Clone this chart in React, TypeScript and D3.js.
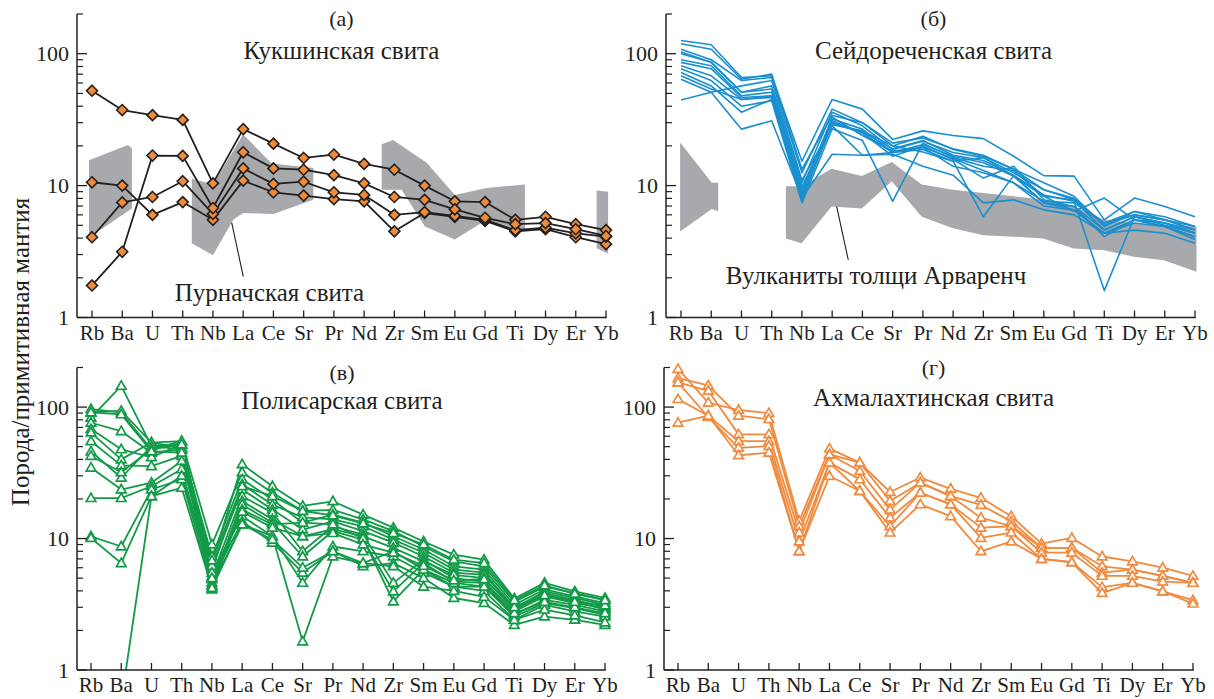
import React from "react";
import * as d3 from "d3";

const ELEMENTS = ["Rb","Ba","U","Th","Nb","La","Ce","Sr","Pr","Nd","Zr","Sm","Eu","Gd","Ti","Dy","Er","Yb"];
const Y_TICK_LABELS = [1, 10, 100];

// (а) Кукшинская свита
const KUK: (number | null)[][] = [
  [52.4, 37.4, 34.2, 31.5, 10.4, 26.8, 20.8, 16.2, 17.2, 14.6, 13.2, 10.0, 7.6, 7.5, 5.5, 5.8, 5.1, 4.6],
  [10.6, 10.0, 6.0, 7.5, 5.5, 10.9, 8.9, 8.4, 7.9, 7.6, 4.5, 6.2, 5.8, 5.4, 4.5, 4.67, 4.06, 3.6],
  [4.06, 7.46, 8.2, 10.8, 6.1, 13.5, 10.3, 10.7, 8.9, 8.5, 6.0, 6.3, 5.9, 5.5, 4.6, 4.8, 4.35, 4.1],
  [1.75, 3.15, 16.9, 16.8, 6.76, 17.9, 13.5, 13.2, 12.0, 10.4, 8.2, 7.8, 6.6, 5.7, 5.1, 5.2, 4.67, 4.15],
];

// (б) Сейдореченская свита
const SEID: (number | null)[][] = [
  [126, 117, 66, 68, 15.3, 45, 38, 22.4, 26, 24, 22.7, 16.7, 11.9, 11.8, 5.5, 8.05, 6.95, 5.8],
  [119, 108, 64, 70, 13.3, 34, 30, 20, 23.7, 18.8, 16.7, 13.3, 10.5, 8.3, 4.9, 6.37, 5.8, 4.9],
  [103, 86, 51, 57, 10.5, 36, 28.4, 18.8, 21.7, 17.8, 16.3, 12.5, 9.3, 7.8, 5.2, 6.0, 5.5, 4.6],
  [90, 81, 48, 51, 9.3, 32, 26.8, 17.8, 20.5, 16.7, 14.9, 11.8, 8.3, 6.4, 8.05, 5.5, 5.2, 4.35],
  [86, 77, 46.6, 48, 8.3, 30, 25, 16.7, 20, 15.8, 11.4, 14.0, 7.8, 6.95, 4.6, 5.8, 5.2, 4.6],
  [81, 68, 45, 46.6, 7.8, 31, 25, 17.8, 18.8, 15.3, 16.3, 11.8, 7.4, 6.55, 4.35, 5.5, 4.9, 4.1],
  [77, 62.6, 40, 44, 7.4, 27, 22, 7.6, 21, 16.3, 14, 13, 8.3, 7.8, 4.6, 5.8, 5.2, 4.35],
  [72, 57, 36, 45, 8.05, 29, 26, 20, 18, 15.3, 5.8, 11.9, 7.4, 6.95, 4.1, 5.5, 4.9, 4.1],
  [68, 54, 45, 48, 8.7, 33, 24, 18.3, 19.5, 16, 13, 10.5, 7.6, 7.4, 5.2, 6.37, 5.5, 4.9],
  [44.5, 51, 57, 62.6, 11, 28.4, 17, 17.3, 14, 12, 7.4, 7.8, 6.55, 6.0, 4.35, 4.6, 4.35, 3.65],
  [64, 51, 26.8, 31, 8.05, 17.3, 17, 17.8, 19.5, 14, 12.5, 10.5, 7.0, 6.5, 4.35, 5.2, 4.9, 3.9],
  [108, 90, 62.6, 66, 12.5, 38, 30, 21, 23, 19, 17, 13.3, 9.3, 8.0, 5.0, 6.0, 5.5, 4.6],
  [100, 86, 51, 54, 9.8, 30, 25.5, 19, 22, 17, 15.5, 12, 8.5, 7.6, 1.6, 5.8, 5.0, 4.35],
];

// (в) Полисарская свита
const POLIS: (number | null)[][] = [
  [83, 145, 50.5, 52, 6.5, 36.7, 25, 17.7, 19.2, 15.2, 12.1, 9.5, 7.55, 6.9, 3.5, 4.6, 3.96, 3.53],
  [96.6, 91, 47.7, 55, 9.0, 31.9, 22.3, 16.2, 16.5, 14.0, 11.4, 8.7, 6.7, 6.15, 3.3, 4.3, 3.85, 3.42],
  [91, 93.6, 53.7, 49, 7.3, 28.2, 19.8, 13.2, 15.2, 13.2, 10.4, 8.25, 6.15, 5.8, 3.13, 4.1, 3.63, 3.23],
  [76, 65.6, 45, 47.7, 5.8, 25.8, 18.1, 14.5, 14.0, 12.4, 9.8, 7.8, 5.8, 5.5, 2.95, 3.96, 3.53, 3.13],
  [68, 47.7, 41.5, 52, 6.2, 23.6, 16.6, 11.7, 13.5, 11.4, 9.3, 7.3, 5.5, 5.3, 3.0, 3.85, 3.42, 3.0],
  [64, 40, 53.7, 55, 5.16, 21, 15.7, 8.0, 12.4, 10.7, 4.6, 6.9, 5.0, 4.7, 2.79, 3.63, 3.23, 2.95],
  [55, 36, 35.5, 42.5, 4.6, 19.2, 14.0, 10.4, 11.8, 10.4, 8.5, 6.7, 5.3, 5.0, 2.88, 3.74, 3.32, 2.88],
  [46, 29, 50.5, 47.7, 4.1, 18.1, 13.2, 7.3, 11.4, 9.8, 3.96, 6.5, 4.7, 4.6, 2.63, 3.42, 3.13, 2.79],
  [42.5, 31.9, 47.7, 52, 4.4, 16.6, 12.8, 13.2, 12.8, 10.0, 3.32, 5.8, 4.3, 4.3, 2.55, 3.23, 2.95, 2.63],
  [34.6, 23.6, 26.6, 38.9, 5.5, 14.8, 10.4, 4.6, 8.7, 8.0, 7.3, 5.5, 4.3, 4.0, 2.41, 3.13, 2.79, 2.55],
  [20.3, 20.3, 25, 33.7, 4.9, 13.5, 9.3, 5.5, 8.0, 6.15, 6.5, 5.0, 3.53, 3.23, 2.2, 2.55, 2.41, 2.2],
  [10.4, 8.7, 23.6, 28.2, 4.4, 12.8, 10.4, 1.65, 7.3, 6.5, 6.15, 4.3, 4.0, 3.6, 2.4, 2.88, 2.6, 2.3],
  [10.1, 6.5, 21, 24.3, 4.2, 12.8, 9.8, 6.0, 8.0, 6.5, 8.0, 5.8, 4.6, 4.3, 2.7, 3.3, 3.0, 2.7],
  [null, 0.57, 21, 30, 5.0, 16, 12.1, 10.4, 11.0, 9.0, 7.8, 6.2, 4.8, 4.9, 3.0, 3.7, 3.3, 3.1],
  [91, 88, 46, 45, 6.8, 25, 21, 16.2, 15, 13, 11, 9, 6.9, 6.5, 3.4, 4.4, 3.8, 3.4],
];

// (г) Ахмалахтинская свита
const AKHM: (number | null)[][] = [
  [195, 108, 95, 90, 13.6, 48.3, 37.8, 22.6, 29.1, 23.9, 20.4, 14.8, 9.15, 10.1, 7.3, 6.7, 6.0, 5.2],
  [166, 146, 86, 81, 12.4, 43.6, 37.8, 19.3, 26.6, 21, 18, 13.5, 8.5, 8.5, 6.15, 5.8, 5.2, 4.6],
  [154, 133, 62, 62, 11.1, 43.6, 32.6, 16.6, 26.6, 21, 14.4, 12.4, 8.5, 8.5, 5.5, 5.8, 5.2, 4.6],
  [115, 86, 55, 55, 9.5, 37.8, 28.2, 14.4, 22.3, 18.2, 12.1, 12.4, 7.8, 7.8, 5.2, 5.2, 4.7, 4.6],
  [154, 84, 49, 50.5, 8.0, 37.8, 23, 12.4, 22.3, 18.2, 10.1, 11.1, 7.0, 6.6, 4.27, 4.6, 3.96, 3.4],
  [76, 86, 43, 45, 8.0, 29.9, 23, 11.1, 18.2, 14.8, 8.0, 9.5, 7.0, 6.6, 3.85, 4.6, 3.96, 3.2],
];

// Пурначская свита field: polygons of [element index, value]
const PURN_FIELD: [number, number][][] = [
  [[-0.1, 15.6], [1.19, 20.3], [1.32, 19.1], [1.32, 6.7], [-0.1, 4.05]],
  [[3.3, 11.3], [4.0, 10.2], [5.0, 24.5], [5.94, 14.7], [7.32, 13.6], [7.32, 7.8], [6.0, 6.1], [5.0, 6.2], [4.67, 5.5], [4.0, 2.97], [3.3, 3.65]],
  [[9.58, 20.6], [9.96, 22.2], [11.07, 14.9], [12.0, 8.5], [13.05, 9.6], [14.32, 10.2], [14.32, 4.5], [13.05, 5.5], [12.0, 3.9], [11.01, 4.9], [10.24, 9.3], [9.58, 9.3]],
  [[16.69, 9.2], [17.07, 9.0], [17.07, 3.06], [16.69, 3.35]],
];

// Вулканиты толщи Арваренч field
const ARV_FIELD: [number, number][][] = [
  [[-0.03, 21.2], [1.02, 10.5], [1.23, 10.5], [1.23, 6.4], [1.02, 6.64], [-0.03, 4.48]],
  [[3.47, 9.9], [3.99, 9.9], [4.98, 13.4], [5.98, 11.8], [6.97, 15.1], [7.96, 10.2], [9.0, 9.3], [10.0, 8.8], [10.99, 8.3], [11.98, 7.8], [12.99, 7.0], [13.99, 5.5], [14.98, 5.2], [15.97, 5.0], [17.05, 4.9],
   [17.05, 2.22], [15.97, 2.72], [14.98, 2.89], [13.99, 3.24], [12.99, 3.34], [11.98, 3.98], [10.99, 4.1], [10.0, 4.2], [9.0, 4.75], [7.96, 5.8], [6.97, 10.8], [5.98, 6.7], [4.98, 6.95], [3.99, 3.65], [3.47, 3.98]],
];

const FONT = '"Liberation Serif", "Times New Roman", "Tinos", serif';
const AXIS = "#231f20";
const GRAY = "#a7a9ac";

type PanelProps = {
  id: string;
  axisX: number; x0: number; x1: number; yTop: number; yBottom: number;
  series: (number | null)[][];
  lineColor: string; lineWidth: number;
  marker?: "diamond" | "triangle";
  markerFill?: string; markerStroke?: string;
  field?: [number, number][][];
  letter: string; title: string; letterY: number; titleY: number; titleDx: number;
};

function Panel(p: PanelProps) {
  const x = d3.scaleLinear().domain([0, ELEMENTS.length - 1]).range([p.x0, p.x1]);
  const y = d3.scaleLog().domain([1, 200]).range([p.yBottom, p.yTop]);
  const line = d3.line<number | null>()
    .defined((d) => d != null)
    .x((_, i) => x(i))
    .y((d) => y(d as number));
  const poly = d3.line<[number, number]>().x((d) => x(d[0])).y((d) => y(d[1]));
  const minor: number[] = [];
  for (const dec of [1, 10, 100]) for (let k = 2; k <= 9; k++) if (dec * k <= 200) minor.push(dec * k);
  const cx = (p.axisX + p.x1) / 2 + p.titleDx;
  const diamond = "M0,-5.5L5.5,0L0,5.5L-5.5,0Z";
  const tri = "M0,-5L4.8,3.4L-4.8,3.4Z";
  return (
    <g>
      <defs>
        <clipPath id={"clip-" + p.id}>
          <rect x={p.axisX} y={p.yTop - 12} width={p.x1 - p.axisX + 20} height={p.yBottom - p.yTop + 12} />
        </clipPath>
      </defs>
      {p.field && p.field.map((f, i) => (
        <path key={"f" + i} d={(poly(f) || "") + "Z"} fill={GRAY} stroke="none" />
      ))}
      <g clipPath={`url(#clip-${p.id})`}>
        {p.series.map((s, i) => (
          <path key={"l" + i} d={line(s) || ""} fill="none" stroke={p.lineColor} strokeWidth={p.lineWidth} strokeLinejoin="round" />
        ))}
        {p.marker && p.series.map((s, i) => (
          <g key={"m" + i}>
            {s.map((v, j) => v == null || v < 1 ? null : (
              <path key={j} transform={`translate(${x(j)},${y(v)})`} d={p.marker === "diamond" ? diamond : tri}
                fill={p.markerFill} stroke={p.markerStroke} strokeWidth={p.marker === "diamond" ? 1.6 : 1.7} strokeLinejoin="miter" />
            ))}
          </g>
        ))}
      </g>
      <line x1={p.axisX} x2={p.axisX} y1={p.yTop} y2={p.yBottom} stroke={AXIS} strokeWidth={1.5} />
      <line x1={p.axisX} x2={p.x1 + 0.75} y1={p.yBottom} y2={p.yBottom} stroke={AXIS} strokeWidth={1.5} />
      {ELEMENTS.map((e, i) => (
        <g key={e}>
          <line x1={x(i)} x2={x(i)} y1={p.yBottom} y2={p.yBottom - 7} stroke={AXIS} strokeWidth={1.3} />
          <text x={x(i)} y={p.yBottom + 22} textAnchor="middle" style={{ fontFamily: FONT }} fontSize={21} fill={AXIS}>{e}</text>
        </g>
      ))}
      {minor.map((v) => (
        <line key={"mn" + v} x1={p.axisX} x2={p.axisX + 6} y1={y(v)} y2={y(v)} stroke={AXIS} strokeWidth={1.2} />
      ))}
      {Y_TICK_LABELS.map((v) => (
        <g key={"yt" + v}>
          <line x1={p.axisX} x2={p.axisX + 10} y1={y(v)} y2={y(v)} stroke={AXIS} strokeWidth={1.3} />
          <text x={p.axisX - 8} y={y(v) + 7.5} textAnchor="end" style={{ fontFamily: FONT }} fontSize={22} fill={AXIS}>{v}</text>
        </g>
      ))}
      <text x={cx} y={p.letterY} textAnchor="middle" style={{ fontFamily: FONT }} fontSize={22} fill={AXIS}>{p.letter}</text>
      <text x={cx} y={p.titleY} textAnchor="middle" style={{ fontFamily: FONT }} fontSize={25} fill={AXIS}>{p.title}</text>
    </g>
  );
}

export default function App() {
  return (
    <svg width={1214} height={699} style={{ display: "block", position: "absolute", left: 0, top: 0 }} xmlns="http://www.w3.org/2000/svg">
      <rect width={1214} height={699} fill="#ffffff" />
      <Panel id="a" axisX={77} x0={92} x1={606} yTop={14} yBottom={317.5} series={KUK}
        lineColor="#231f20" lineWidth={1.8} marker="diamond" markerFill="#f28b38" markerStroke="#231f20"
        field={PURN_FIELD} letter="(а)" title="Кукшинская свита" letterY={26} titleY={59} titleDx={0} />
      <Panel id="b" axisX={666} x0={681} x1={1195} yTop={14} yBottom={317.5} series={SEID}
        lineColor="#1a8fcf" lineWidth={1.6}
        field={ARV_FIELD} letter="(б)" title="Сейдореченская свита" letterY={26} titleY={59} titleDx={3} />
      <Panel id="c" axisX={77} x0={91} x1={605} yTop={367.5} yBottom={670} series={POLIS}
        lineColor="#139a48" lineWidth={1.8} marker="triangle" markerFill="#ffffff" markerStroke="#139a48"
        letter="(в)" title="Полисарская свита" letterY={380} titleY={409} titleDx={1} />
      <Panel id="d" axisX={664} x0={678} x1={1193} yTop={367.5} yBottom={670} series={AKHM}
        lineColor="#f08a3e" lineWidth={1.8} marker="triangle" markerFill="#ffffff" markerStroke="#f08a3e"
        letter="(г)" title="Ахмалахтинская свита" letterY={375} titleY={406} titleDx={5} />
      <line x1={243.3} y1={276.7} x2={231.7} y2={222.7} stroke={AXIS} strokeWidth={1.1} />
      <text x={269.5} y={301} textAnchor="middle" style={{ fontFamily: FONT }} fontSize={25} fill={AXIS}>Пурначская свита</text>
      <line x1={848.3} y1={260} x2={836.7} y2={206.7} stroke={AXIS} strokeWidth={1.1} />
      <text x={876} y={284} textAnchor="middle" style={{ fontFamily: FONT }} fontSize={25} fill={AXIS}>Вулканиты толщи Арваренч</text>
      <text transform="translate(29,352) rotate(-90)" textAnchor="middle" style={{ fontFamily: FONT }} fontSize={25} fill={AXIS}>Порода/примитивная мантия</text>
    </svg>
  );
}
